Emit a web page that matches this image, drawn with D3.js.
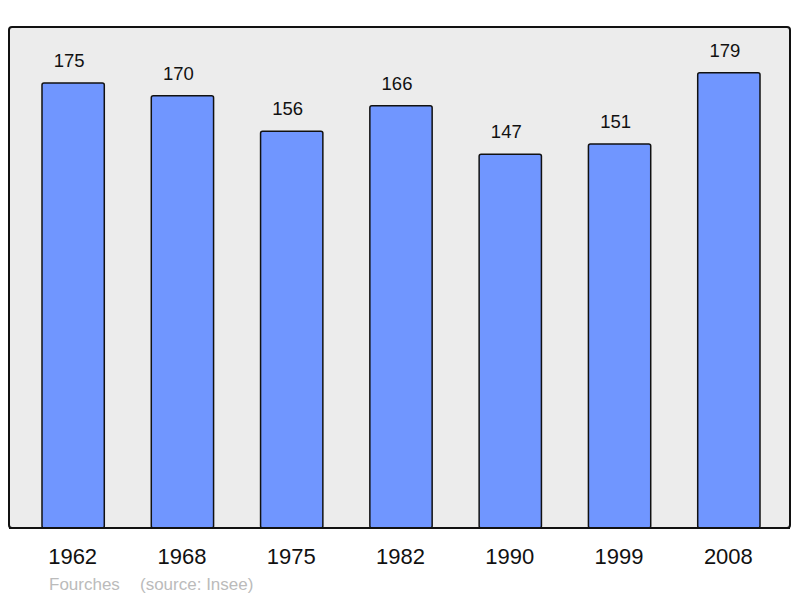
<!DOCTYPE html>
<html><head><meta charset="utf-8">
<script src="https://cdn.jsdelivr.net/npm/d3@7"></script>
<style>body{margin:0;background:#fff}svg{display:block}</style>
</head><body>
<script>
const years = ["1962","1968","1975","1982","1990","1999","2008"];
const population = [175,170,156,166,147,151,179];
const footerName = "Fourches";
const footerSource = "(source: Insee)";

const W = 800, H = 598;
const svg = d3.select("body").append("svg").attr("width", W).attr("height", H);
const frame = {x0: 9, y0: 27, x1: 790, y1: 528};

svg.append("rect").attr("x", frame.x0).attr("y", frame.y0)
  .attr("width", frame.x1 - frame.x0).attr("height", frame.y1 - frame.y0)
  .attr("rx", 3).attr("fill", "#ececec").attr("stroke", "#111").attr("stroke-width", 2);

const x = d3.scaleBand().domain(years).range([18.5, 783.5]).paddingInner(0.43).paddingOuter(0.215);
const y = d3.scaleLinear().domain([0, 197]).range([frame.y1, frame.y0]);

const data = years.map((yr, i) => ({yr, v: population[i]}));

svg.selectAll("rect.bar").data(data).enter().append("rect").attr("class", "bar")
  .attr("x", d => x(d.yr)).attr("y", d => y(d.v))
  .attr("width", x.bandwidth()).attr("height", d => y(0) - y(d.v))
  .attr("rx", 2).attr("fill", "#7096ff").attr("stroke", "#111").attr("stroke-width", 1.5);

svg.append("line").attr("x1", frame.x0).attr("x2", frame.x1).attr("y1", frame.y1).attr("y2", frame.y1)
  .attr("stroke", "#111").attr("stroke-width", 2);

svg.selectAll("text.val").data(data).enter().append("text").attr("class", "val")
  .attr("x", d => x(d.yr) + x.bandwidth() / 2 - 4).attr("y", d => y(d.v) - 16)
  .attr("text-anchor", "middle").attr("font-family", "Liberation Sans, Arial, sans-serif")
  .attr("font-size", 18.5).attr("fill", "#111").text(d => d.v);

svg.selectAll("text.yr").data(data).enter().append("text").attr("class", "yr")
  .attr("x", d => x(d.yr) + x.bandwidth() / 2 - 0.5).attr("y", 564)
  .attr("text-anchor", "middle").attr("font-family", "Liberation Sans, Arial, sans-serif")
  .attr("font-size", 22).attr("fill", "#111").text(d => d.yr);

svg.append("text").attr("x", 49).attr("y", 590).attr("font-family", "Liberation Sans, Arial, sans-serif")
  .attr("font-size", 17).attr("fill", "#bbb").text(footerName);
svg.append("text").attr("x", 140).attr("y", 590).attr("font-family", "Liberation Sans, Arial, sans-serif")
  .attr("font-size", 17).attr("fill", "#bbb").text(footerSource);
</script>
</body></html>
